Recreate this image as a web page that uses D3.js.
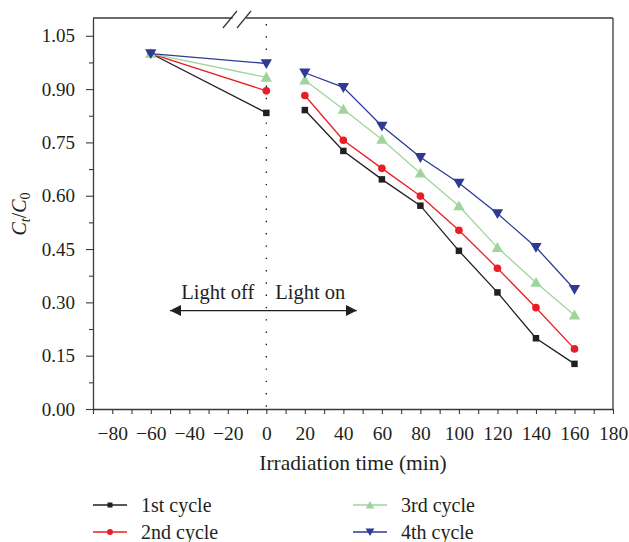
<!DOCTYPE html>
<html>
<head>
<meta charset="utf-8">
<script src="https://cdn.jsdelivr.net/npm/d3@7/dist/d3.min.js"></script>
<style>
  html, body { margin: 0; padding: 0; background: #fff; }
  svg { display: block; }
  text { font-family: "Liberation Serif", "DejaVu Serif", serif; fill: #231f20; }
</style>
</head>
<body>
<svg id="chart" width="629" height="542"></svg>
<script>
// ---- data ----
const darkTimes = [-60, 0];
const lightTimes = [20, 40, 60, 80, 100, 120, 140, 160];
const seriesNames = ["1st cycle", "2nd cycle", "3rd cycle", "4th cycle"];
const cycle1Dark = [1.00, 0.833];
const cycle2Dark = [1.00, 0.895];
const cycle3Dark = [1.00, 0.933];
const cycle4Dark = [1.00, 0.972];
const cycle1Light = [0.841, 0.726, 0.646, 0.572, 0.445, 0.328, 0.199, 0.127];
const cycle2Light = [0.882, 0.756, 0.677, 0.599, 0.503, 0.396, 0.285, 0.169];
const cycle3Light = [0.925, 0.843, 0.758, 0.663, 0.571, 0.454, 0.356, 0.264];
const cycle4Light = [0.946, 0.905, 0.796, 0.708, 0.636, 0.550, 0.455, 0.337];
const xTickValues = [-90, -80, -70, -60, -50, -40, -30, -20, -10, 0, 10, 20, 30, 40, 50, 60, 70, 80, 90, 100, 110, 120, 130, 140, 150, 160, 170, 180];
const xLabelValues = [-80, -60, -40, -20, 0, 20, 40, 60, 80, 100, 120, 140, 160, 180];
const yTickValues = [0, 0.075, 0.15, 0.225, 0.30, 0.375, 0.45, 0.525, 0.60, 0.675, 0.75, 0.825, 0.90, 0.975, 1.05];
const yLabelValues = [0, 0.15, 0.30, 0.45, 0.60, 0.75, 0.90, 1.05];

const colors = ["#231f20", "#ec1c24", "#9fd59b", "#2e3a94"];
const symbols = [d3.symbolSquare, d3.symbolCircle, d3.symbolTriangle, d3.symbolTriangle];
const symSizes = [42, 46, 56, 56];
const rotations = [0, 0, 0, 180];

const darkVals = [cycle1Dark, cycle2Dark, cycle3Dark, cycle4Dark];
const lightVals = [cycle1Light, cycle2Light, cycle3Light, cycle4Light];

const svg = d3.select("#chart");
const L = 93, R = 613, T = 18, B = 409;
const x = d3.scaleLinear().domain([-90, 180]).range([L, R]);
const y = d3.scaleLinear().domain([0, 1.1]).range([B, T]);
const axisColor = "#3a3a3a";

// frame top & right
svg.append("line").attr("x1", L).attr("x2", R).attr("y1", T).attr("y2", T)
  .attr("stroke", axisColor).attr("stroke-width", 1.3);
svg.append("line").attr("x1", R).attr("x2", R).attr("y1", T).attr("y2", B)
  .attr("stroke", axisColor).attr("stroke-width", 1.3);

// x axis
const xAxis = svg.append("g").attr("transform", `translate(0,${B})`)
  .call(d3.axisBottom(x).tickValues(xTickValues).tickSize(5).tickSizeOuter(0).tickFormat(""));
xAxis.select(".domain").attr("stroke", axisColor).attr("stroke-width", 1.3);
xAxis.selectAll(".tick line").attr("stroke", axisColor).attr("stroke-width", 1.1);
const xLab = svg.append("g").attr("transform", `translate(0,${B})`)
  .call(d3.axisBottom(x).tickValues(xLabelValues).tickSize(0).tickPadding(17).tickFormat(d3.format("d")));
xLab.select(".domain").remove();
xLab.selectAll("text").attr("font-size", 19.5).attr("font-family", "Liberation Serif").attr("fill", "#231f20");

// y axis
const yAxis = svg.append("g").attr("transform", `translate(${L},0)`)
  .call(d3.axisLeft(y).tickValues(yTickValues).tickSizeOuter(0).tickFormat(""));
yAxis.select(".domain").attr("stroke", axisColor).attr("stroke-width", 1.3);
yAxis.selectAll(".tick line").attr("stroke", axisColor).attr("stroke-width", 1.1)
  .attr("x2", d => yLabelValues.some(v => Math.abs(v - d) < 1e-6) ? -7 : -4);
const yLab = svg.append("g").attr("transform", `translate(${L},0)`)
  .call(d3.axisLeft(y).tickValues(yLabelValues).tickSize(0).tickPadding(18).tickFormat(d3.format(".2f")));
yLab.select(".domain").remove();
yLab.selectAll("text").attr("font-size", 19).attr("font-family", "Liberation Serif").attr("fill", "#231f20");

// axis break marks on top
svg.append("rect").attr("x", x(-17.5)).attr("y", T - 3).attr("width", x(-10.5) - x(-17.5)).attr("height", 6).attr("fill", "#fff");
[-18.9, -11.6].forEach(v => {
  svg.append("line").attr("x1", x(v) - 7).attr("y1", T + 10).attr("x2", x(v) + 7).attr("y2", T - 7)
    .attr("stroke", axisColor).attr("stroke-width", 1.3);
});

// dotted vertical line at 0
svg.append("line").attr("x1", x(0)).attr("x2", x(0)).attr("y1", T + 6).attr("y2", B)
  .attr("stroke", "#231f20").attr("stroke-width", 1.4).attr("stroke-dasharray", "1.4,10.9");

// axis titles
svg.append("text").attr("x", 353).attr("y", 470).attr("text-anchor", "middle")
  .attr("font-size", 21.5).text("Irradiation time (min)");
const yt = svg.append("text").attr("transform", `translate(26,214) rotate(-90)`).attr("text-anchor", "middle")
  .attr("font-size", 20);
yt.append("tspan").attr("font-style", "italic").text("C");
yt.append("tspan").attr("font-style", "italic").attr("font-size", 14).attr("dy", 4).text("t");
yt.append("tspan").attr("dy", -4).text("/");
yt.append("tspan").attr("font-style", "italic").text("C");
yt.append("tspan").attr("font-size", 14).attr("dy", 4).text("0");

// light off/on annotation
const arrowY = y(0.277);
svg.append("defs").html(`
  <marker id="ah" viewBox="0 0 10 10" refX="10" refY="5" markerWidth="11" markerHeight="11" markerUnits="userSpaceOnUse" orient="auto-start-reverse">
    <path d="M0,0 L10,5 L0,10 z" fill="#231f20"></path>
  </marker>`);
svg.append("line").attr("x1", x(-50)).attr("x2", x(47)).attr("y1", arrowY).attr("y2", arrowY)
  .attr("stroke", "#231f20").attr("stroke-width", 1.3)
  .attr("marker-start", "url(#ah)").attr("marker-end", "url(#ah)");
svg.append("text").attr("x", x(0) - 12).attr("y", 299).attr("text-anchor", "end").attr("font-size", 20.5).text("Light off");
svg.append("text").attr("x", x(0) + 9).attr("y", 299).attr("text-anchor", "start").attr("font-size", 20.5).text("Light on");

// series
const line = d3.line().x(d => x(d[0])).y(d => y(d[1]));
seriesNames.forEach((name, i) => {
  const g = svg.append("g");
  const dark = darkTimes.map((t, j) => [t, darkVals[i][j]]);
  const light = lightTimes.map((t, j) => [t, lightVals[i][j]]);
  [dark, light].forEach(seg => {
    g.append("path").attr("d", line(seg)).attr("fill", "none").attr("stroke", colors[i]).attr("stroke-width", 1.3);
  });
  const sym = d3.symbol().type(symbols[i]).size(symSizes[i]);
  dark.concat(light).forEach(p => {
    g.append("path").attr("d", sym())
      .attr("transform", `translate(${x(p[0])},${y(p[1]) + (i === 2 ? 1 : i === 3 ? -1 : 0)}) rotate(${rotations[i]})`)
      .attr("fill", colors[i]);
  });
});

// legend
const legendPos = [[93, 505], [93, 532], [353, 505], [353, 532]];
seriesNames.forEach((name, i) => {
  const [lx, ly] = legendPos[i];
  const g = svg.append("g").attr("transform", `translate(${lx},${ly})`);
  g.append("line").attr("x1", 0).attr("x2", 34).attr("y1", 0).attr("y2", 0).attr("stroke", colors[i]).attr("stroke-width", 1.3);
  g.append("path").attr("d", d3.symbol().type(symbols[i]).size(symSizes[i] * 0.6)())
    .attr("transform", `translate(17,${i === 2 ? 1 : i === 3 ? -1 : 0}) rotate(${rotations[i]})`).attr("fill", colors[i]);
  g.append("text").attr("x", 48).attr("y", 7).attr("font-size", 20).text(name);
});
</script>
</body>
</html>
